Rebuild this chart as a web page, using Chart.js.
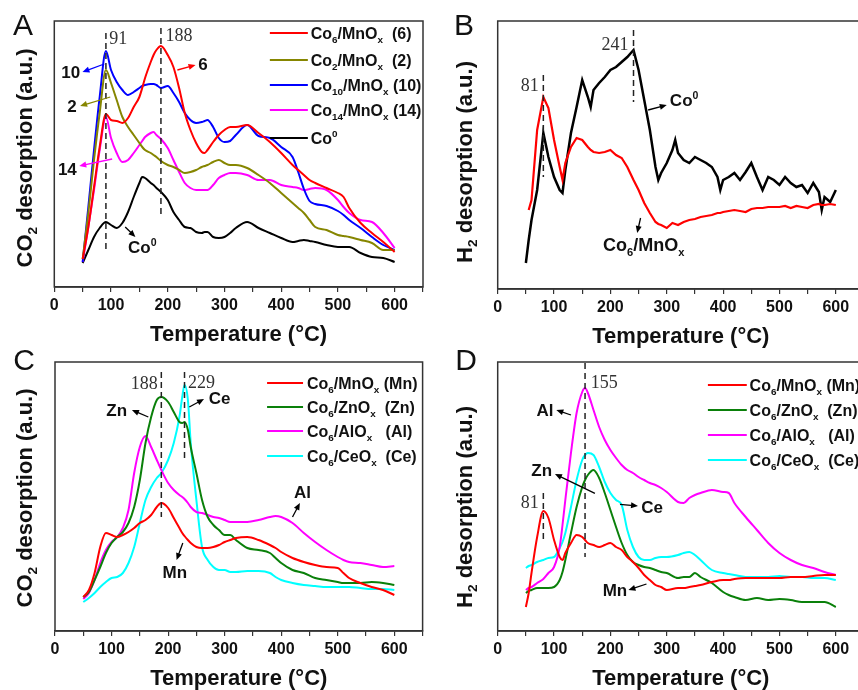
<!DOCTYPE html>
<html><head><meta charset="utf-8">
<script src="https://cdn.jsdelivr.net/npm/chart.js@4.4.1/dist/chart.umd.min.js"></script>
<style>
html,body{margin:0;padding:0;width:858px;height:690px;overflow:hidden;background:#fff;}
canvas{position:absolute;}
</style></head><body>
<script>
// ---------------- DATA ----------------
// Panel A: CO2 desorption, Co_x/MnOx series
const tempsA = [50,60,70,80,91,100,110,120,130,140,150,155,160,170,175,180,188,200,210,220,230,240,250,260,265,270,280,290,300,310,320,340,360,380,400,420,430,440,450,460,480,500,510,520,540,560,580,600];
const co6A  = [28,60,100,140,173,167,166,164,169,180,190,199,209,225,232,237,241,232,220,199,174,157,144,135,134,137,145,152,157,160,160,162,154,145,134,122,117,112,107,104,99,94,90,79,64,54,45,35];
const co2A  = [28,74,127,174,217,204,187,170,160,152,144,140,137,134,132,130,126,122,120,117,114,115,117,120,121,122,125,127,124,122,122,119,112,104,94,84,79,74,67,60,57,52,51,50,47,44,37,37];
const co10A = [25,80,137,190,236,217,205,197,192,195,199,201,202,203,203,202,199,201,194,185,174,167,164,165,166,167,160,149,145,146,152,162,151,149,140,130,115,98,86,83,81,76,72,67,59,50,42,37];
const co14A = [25,60,97,137,170,149,134,125,127,134,142,146,150,154,155,152,148,139,127,115,104,99,97,97,97,97,102,109,112,114,114,112,107,107,102,100,99,97,98,99,97,87,80,74,67,65,54,39];
const co0A  = [24,37,50,59,65,62,59,64,75,90,104,110,109,104,102,99,95,87,75,67,60,59,55,54,55,55,50,49,50,54,59,65,59,54,49,45,46,47,46,45,42,40,40,40,34,30,29,25];

// Panel B: H2 desorption
const tempsB = [50,55,60,70,81,90,100,110,115,120,130,140,150,160,165,170,180,190,200,210,220,230,241,250,260,270,280,285,290,300,310,315,320,330,340,350,360,370,380,390,395,400,410,420,430,440,450,460,470,480,490,500,510,520,530,540,550,560,570,575,580,590,600];
const co0B = [26,49,69,99,156,132,112,99,96,119,156,182,209,192,182,199,206,212,219,222,227,232,239,219,189,159,122,109,116,126,139,149,136,129,126,132,129,126,122,112,99,109,112,116,109,117,126,112,99,112,109,104,112,106,102,104,96,106,97,79,92,87,99];
const co6B = [null,79,89,159,192,181,149,122,109,126,142,151,149,142,139,137,136,137,139,134,131,122,109,99,86,76,67,65,64,61,66,65,64,67,69,70,72,73,74,76,76,77,78,79,78,77,80,81,81,82,82,82,83,81,83,82,81,84,85,84,84,85,84];

// Panel C: CO2 desorption, Co6 on different supports
const tempsC = [50,60,70,80,90,100,110,120,130,140,150,160,170,180,188,200,210,220,225,229,235,240,250,260,270,280,290,300,310,320,340,360,380,390,400,420,440,460,480,500,510,520,540,560,580,600];
const mnC = [34,41,58,84,98,96,94,96,99,103,108,111,116,124,128,123,113,103,98,95,91,88,84,83,83,84,86,89,91,93,94,91,86,83,79,73,69,66,64,63,58,53,48,44,41,36];
const znC = [34,39,51,64,78,88,94,99,108,124,151,188,214,231,234,229,219,209,208,209,201,184,158,131,114,106,101,96,96,91,83,81,78,73,68,61,58,53,51,49,48,48,48,49,48,46];
const alC = [32,38,51,68,81,89,94,103,121,158,184,195,184,171,161,148,141,136,134,132,128,124,119,118,116,114,113,111,109,109,109,111,114,115,114,108,98,89,81,74,71,69,68,66,64,65];
const ceC = [29,33,38,44,49,53,54,58,68,84,108,131,144,153,158,171,188,214,234,246,231,188,131,84,71,64,61,61,59,59,60,60,58,54,51,48,46,45,44,44,44,44,43,42,42,41];

// Panel D: H2 desorption, Co6 on different supports
const tempsD = [50,55,60,70,81,90,100,110,115,120,130,140,150,155,160,170,180,190,200,210,220,230,240,250,260,270,280,290,300,320,330,340,350,360,380,400,410,420,440,460,480,500,520,540,560,580,600];
const mnD = [24,38,58,94,120,113,91,74,71,78,88,96,94,91,88,86,84,86,88,84,81,74,69,63,56,51,46,44,41,43,43,44,45,46,49,51,51,52,53,53,53,53,54,54,55,56,56];
const znD = [38,40,41,43,43,43,44,51,59,71,98,124,144,151,156,161,153,138,121,104,88,76,69,66,64,63,61,59,58,53,54,54,58,54,48,39,36,34,31,33,31,32,31,29,29,29,24];
const alD = [41,43,44,48,52,58,64,84,106,131,178,218,239,243,238,221,204,191,181,173,166,161,158,154,151,148,146,143,139,129,128,133,136,138,141,139,138,128,114,101,88,78,71,66,63,59,56];
const ceD = [63,65,66,69,71,73,74,83,89,98,124,151,171,176,178,176,164,149,138,131,126,101,84,74,71,71,73,74,74,76,78,79,76,71,61,58,57,56,54,54,54,55,54,54,53,53,51];

const xTickStep = 50;
const xMax = 650;
const labelsA = ['Co_{6}/MnO_{x}  (6)','Co_{2}/MnO_{x}  (2)','Co_{10}/MnO_{x} (10)','Co_{14}/MnO_{x} (14)','Co^{0}'];
const labelsB = ['Co^{0}','Co_{6}/MnO_{x}'];
const labelsCD = ['Co_{6}/MnO_{x} (Mn)','Co_{6}/ZnO_{x}  (Zn)','Co_{6}/AlO_{x}   (Al)','Co_{6}/CeO_{x}  (Ce)'];

// ---------------- STYLE ----------------
const SANS = '"Liberation Sans", Arial, sans-serif';
const SERIF = '"Liberation Serif", "Times New Roman", serif';
const RED='#ff0000', OLIVE='#868600', BLUE='#0000ff', MAG='#ff00ff', BLK='#000000', GRN='#0a800a', CYAN='#00ffff';

function parseRich(s){
  const out=[]; let i=0, buf='';
  while(i<s.length){
    const c=s[i];
    if((c==='_'||c==='^') && s[i+1]==='{'){
      if(buf){out.push({t:buf,m:''});buf='';}
      const j=s.indexOf('}',i);
      out.push({t:s.slice(i+2,j), m:c==='_'?'sub':'sup'});
      i=j+1;
    } else {buf+=c;i++;}
  }
  if(buf) out.push({t:buf,m:''});
  return out;
}
function drawRich(ctx, s, x, cy, fs, o){
  o=o||{};
  const fam=o.family||SANS, wt=o.weight||'bold', align=o.align||'left';
  const segs=parseRich(s);
  let w=0;
  const fonts=segs.map(g=>{const f=`${wt} ${g.m?fs*0.62:fs}px ${fam}`; ctx.font=f; g.w=ctx.measureText(g.t).width; w+=g.w; return f;});
  let cx = align==='center'? x-w/2 : (align==='right'? x-w : x);
  const base = cy + 0.36*fs;
  ctx.fillStyle=o.color||'#111'; ctx.textAlign='left'; ctx.textBaseline='alphabetic';
  segs.forEach((g,k)=>{
    ctx.font=fonts[k];
    const dy = g.m==='sub'? 0.24*fs : (g.m==='sup'? -0.42*fs : 0);
    ctx.fillText(g.t, cx, base+dy);
    cx+=g.w;
  });
}
function arrow(ctx,x1,y1,x2,y2,color){
  ctx.strokeStyle=color; ctx.fillStyle=color; ctx.lineWidth=1.3; ctx.setLineDash([]);
  const a=Math.atan2(y2-y1,x2-x1), L=7, W=3;
  ctx.beginPath(); ctx.moveTo(x1,y1); ctx.lineTo(x2-L*0.6*Math.cos(a),y2-L*0.6*Math.sin(a)); ctx.stroke();
  ctx.beginPath(); ctx.moveTo(x2,y2);
  ctx.lineTo(x2-L*Math.cos(a)+W*Math.sin(a), y2-L*Math.sin(a)-W*Math.cos(a));
  ctx.lineTo(x2-L*Math.cos(a)-W*Math.sin(a), y2-L*Math.sin(a)+W*Math.cos(a));
  ctx.closePath(); ctx.fill();
}

function makeDeco(p){
  return {
    id:'deco'+p.id,
    afterDraw(chart){
      const {ctx, chartArea:a, scales:{x,y}} = chart;
      const X=v=>x.getPixelForValue(v), Y=v=>y.getPixelForValue(v);
      ctx.save();
      // frame
      ctx.strokeStyle='#333'; ctx.lineWidth=1.5; ctx.setLineDash([]);
      ctx.strokeRect(a.left, a.top, a.right-a.left, a.bottom-a.top);
      // dashed markers
      ctx.strokeStyle='#222'; ctx.lineWidth=1.5; ctx.setLineDash([6,4]);
      p.dashes.forEach(d=>{ctx.beginPath(); ctx.moveTo(X(d[0]),Y(d[1])); ctx.lineTo(X(d[0]),Y(d[2])); ctx.stroke();});
      ctx.setLineDash([]);
      // arrows
      p.arrows.forEach(r=>arrow(ctx,X(r[0]),Y(r[1]),X(r[2]),Y(r[3]),r[4]||'#000'));
      // texts
      p.texts.forEach(t=>{
        if(t.serif) drawRich(ctx,t.s,X(t.x),Y(t.y),18,{family:SERIF,weight:'normal',align:t.align||'center',color:'#333'});
        else drawRich(ctx,t.s,X(t.x),Y(t.y),t.fs||17,{align:t.align||'center',color:'#111'});
      });
      // legend
      if(p.legend){
        const L=p.legend;
        L.items.forEach((it,k)=>{
          const yy=Y(L.ys[k]);
          ctx.strokeStyle=it.color; ctx.lineWidth=2;
          ctx.beginPath(); ctx.moveTo(X(L.x0),yy); ctx.lineTo(X(L.x1),yy); ctx.stroke();
          drawRich(ctx,it.label,X(L.tx),yy,16,{align:'left',color:'#111'});
        });
      }
      // y-axis title
      ctx.save();
      ctx.translate(p.ytPos[0]-p.left, p.ytPos[1]-p.top);
      ctx.rotate(-Math.PI/2);
      drawRich(ctx,p.ytitle,0,0,22,{align:'center',color:'#111'});
      ctx.restore();
      // panel letter
      drawRich(ctx,p.letter,p.letterPos[0]-p.left,p.letterPos[1]-p.top,30,{weight:'normal',align:'center',color:'#111'});
      ctx.restore();
    }
  };
}

function makeChart(p){
  const cv=document.createElement('canvas');
  cv.width=p.w; cv.height=p.h;
  cv.style.left=p.left+'px'; cv.style.top=p.top+'px';
  cv.style.width=p.w+'px'; cv.style.height=p.h+'px';
  document.body.appendChild(cv);
  new Chart(cv,{
    type:'line',
    data:{datasets:p.series.map(s=>({
      label:s.name,
      data:p.temps.map((t,i)=>({x:t,y:s.values[i]})),
      borderColor:s.color, borderWidth:s.bw||2, pointRadius:0, fill:false,
      tension:s.smooth?0.4:0, cubicInterpolationMode:s.smooth?'monotone':'default', spanGaps:false
    }))},
    options:{
      responsive:false, animation:false, devicePixelRatio:1, events:[],
      layout:{padding:{left:p.pad[0],top:p.pad[1],right:p.pad[2],bottom:0}},
      plugins:{legend:{display:false},tooltip:{enabled:false}},
      scales:{
        x:{type:'linear',min:0,max:xMax,
          ticks:{stepSize:xTickStep,autoSkip:false,maxRotation:0,padding:6,color:'#111',
            font:{family:SANS,size:16,weight:'bold',lineHeight:1},
            callback:v=>v%100===0?String(v):''},
          grid:{display:true,drawOnChartArea:false,drawTicks:true,tickLength:5,color:'#333',lineWidth:1.2},
          border:{display:true,color:'#333',width:1.5},
          title:{display:true,text:'Temperature (°C)',color:'#111',
            font:{family:SANS,size:22,weight:'bold',lineHeight:1},padding:{top:4,bottom:0}}},
        y:{display:false,min:0,max:p.ymax}
      }
    },
    plugins:[makeDeco(p)]
  });
}

// ---------------- PANELS ----------------
makeChart({id:'A',left:0,top:0,w:440,h:346,pad:[54.3,21,17],ymax:266,temps:tempsA,
  series:[
    {name:labelsA[0],values:co6A,color:RED,smooth:true},
    {name:labelsA[1],values:co2A,color:OLIVE,smooth:true},
    {name:labelsA[2],values:co10A,color:BLUE,smooth:true},
    {name:labelsA[3],values:co14A,color:MAG,smooth:true},
    {name:labelsA[4],values:co0A,color:BLK,smooth:true}],
  dashes:[[91,254,37],[188,259,71]],
  arrows:[[88,223,49.6,215,BLUE],[98.6,190,45.5,181,OLIVE],[102,128,44,121,MAG],[217,217,249,222,RED],[125,60,143,50,BLK]],
  texts:[{s:'91',x:97,y:249,serif:true,align:'left'},{s:'188',x:196,y:252,serif:true,align:'left'},
    {s:'10',x:29,y:215},{s:'2',x:31,y:181},{s:'14',x:23,y:118},{s:'6',x:262,y:223},{s:'Co^{0}',x:130,y:40,align:'left'}],
  legend:{x0:380,x1:447,tx:452,ys:[254,227,202,177,149],
    items:[{label:labelsA[0],color:RED},{label:labelsA[1],color:OLIVE},{label:labelsA[2],color:BLUE},{label:labelsA[3],color:MAG},{label:labelsA[4],color:BLK}]},
  ytitle:'CO_{2} desorption (a.u.)',ytPos:[24,158],letter:'A',letterPos:[23,24]});

makeChart({id:'B',left:440,top:0,w:440,h:348,pad:[57.7,21,16],ymax:268,temps:tempsB,
  series:[
    {name:labelsB[1],values:co6B,color:RED,bw:2.2},
    {name:labelsB[0],values:co0B,color:BLK,bw:2.5}],
  dashes:[[81,214,112],[241,259,187]],
  arrows:[[267,179,300,184,BLK],[253.5,71,247.5,56,BLK]],
  texts:[{s:'81',x:57,y:204,serif:true},{s:'241',x:208,y:245,serif:true},
    {s:'Co^{0}',x:305.5,y:189,align:'left'},{s:'Co_{6}/MnO_{x}',x:187,y:44,align:'left',fs:18}],
  legend:null,
  ytitle:'H_{2} desorption (a.u.)',ytPos:[464,162],letter:'B',letterPos:[464,24]});

makeChart({id:'C',left:0,top:340,w:440,h:350,pad:[55,22,17.4],ymax:269,temps:tempsC,
  series:[
    {name:labelsCD[0],values:mnC,color:RED,smooth:true},
    {name:labelsCD[1],values:znC,color:GRN,smooth:true},
    {name:labelsCD[2],values:alC,color:MAG,smooth:true},
    {name:labelsCD[3],values:ceC,color:CYAN,smooth:true}],
  dashes:[[188,259,114],[229,259,171]],
  arrows:[[165,214,136,221,BLK],[237.5,224,263.5,232,BLK],[226,88,215,71,BLK],[420,114,433,128,BLK]],
  texts:[{s:'188',x:158,y:248,serif:true},{s:'229',x:259,y:249,serif:true},
    {s:'Zn',x:109,y:221},{s:'Ce',x:291,y:233},{s:'Mn',x:212,y:59},{s:'Al',x:437.7,y:139}],
  legend:{x0:375,x1:438.6,tx:445.6,ys:[248,224,200,175],
    items:[{label:labelsCD[0],color:RED},{label:labelsCD[1],color:GRN},{label:labelsCD[2],color:MAG},{label:labelsCD[3],color:CYAN}]},
  ytitle:'CO_{2} desorption (a.u.)',ytPos:[24,498],letter:'C',letterPos:[24,359]});

makeChart({id:'D',left:440,top:340,w:440,h:350,pad:[57.7,22,16],ymax:269,temps:tempsD,
  series:[
    {name:labelsCD[0],values:mnD,color:RED,smooth:true},
    {name:labelsCD[1],values:znD,color:GRN,smooth:true},
    {name:labelsCD[2],values:alD,color:MAG,smooth:true},
    {name:labelsCD[3],values:ceD,color:CYAN,smooth:true}],
  dashes:[[155,268,74],[81,138,89]],
  arrows:[[130,216,104,221,BLK],[172.5,137.7,101.6,157,BLK],[217,126.7,249,125,BLK],[264,47,232,41,BLK]],
  texts:[{s:'155',x:189,y:249,serif:true},{s:'81',x:57,y:129,serif:true},
    {s:'Al',x:84,y:221},{s:'Zn',x:78,y:161},{s:'Ce',x:274,y:124},{s:'Mn',x:208,y:41}],
  legend:{x0:373,x1:442,tx:447,ys:[246,221,196,171],
    items:[{label:labelsCD[0],color:RED},{label:labelsCD[1],color:GRN},{label:labelsCD[2],color:MAG},{label:labelsCD[3],color:CYAN}]},
  ytitle:'H_{2} desorption (a.u.)',ytPos:[464,507],letter:'D',letterPos:[466,359]});
</script>
</body></html>
